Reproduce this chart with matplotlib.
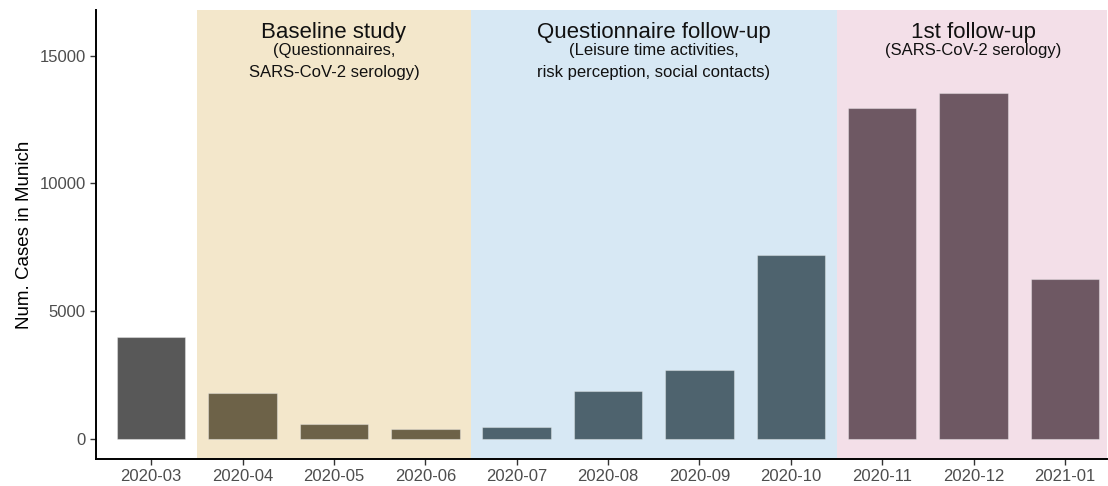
import matplotlib
matplotlib.use('Agg')
import matplotlib.pyplot as plt

# data
months = ['2020-03', '2020-04', '2020-05', '2020-06', '2020-07', '2020-08',
          '2020-09', '2020-10', '2020-11', '2020-12', '2021-01']
cases = [3990, 1800, 560, 380, 460, 1870, 2690, 7200, 12960, 13560, 6250]
phase = [0, 1, 1, 1, 2, 2, 2, 2, 3, 3, 3]

bar_colors = ['#585858', '#6d6248', '#4e636e', '#6e5863']
bg_colors = [None, '#f3e7cb', '#d7e8f4', '#f3dfe8']
phase_spans = [(0.5, 3.5), (3.5, 7.5), (7.5, 10.5)]
phase_titles = ['Baseline study', 'Questionnaire follow-up', '1st follow-up']
phase_subs = ['(Questionnaires,\nSARS-CoV-2 serology)',
              '(Leisure time activities,\nrisk perception, social contacts)',
              '(SARS-CoV-2 serology)']

plt.rcParams['font.family'] = ['Liberation Sans', 'DejaVu Sans']

fig = plt.figure(figsize=(11.08, 4.86), dpi=100)
ax = fig.add_axes([0.0866, 0.0556, 0.9125, 0.9234])

for (x0, x1), c in zip(phase_spans, bg_colors[1:]):
    ax.axvspan(x0, x1, color=c, lw=0, zorder=0)

x = list(range(len(months)))
ax.bar(x, cases, width=0.75, color=[bar_colors[p] for p in phase],
       edgecolor=(1, 1, 1, 0.35), linewidth=0.8, zorder=2)

for (x0, x1), t, s in zip(phase_spans, phase_titles, phase_subs):
    xc = (x0 + x1) / 2
    ax.text(xc, 15920, t, ha='center', va='center', fontsize=16, color='#111111')
    ax.text(xc, 15500, s, ha='center', va='top', fontsize=12, color='#111111',
            linespacing=1.6)

ax.set_xlim(-0.605, 10.46)
ax.set_ylim(-795, 16790)
ax.set_xticks(x)
ax.set_xticklabels(months)
ax.set_yticks([0, 5000, 10000, 15000])
ax.set_ylabel('Num. Cases in Munich', fontsize=13.5, labelpad=4.5)
ax.tick_params(axis='both', labelsize=12, labelcolor='#4d4d4d', color='#333333',
               length=4, width=1)

for side in ['top', 'right']:
    ax.spines[side].set_visible(False)
for side in ['left', 'bottom']:
    ax.spines[side].set_linewidth(1.4)
    ax.spines[side].set_zorder(5)

fig.savefig('out.png', dpi=100)
